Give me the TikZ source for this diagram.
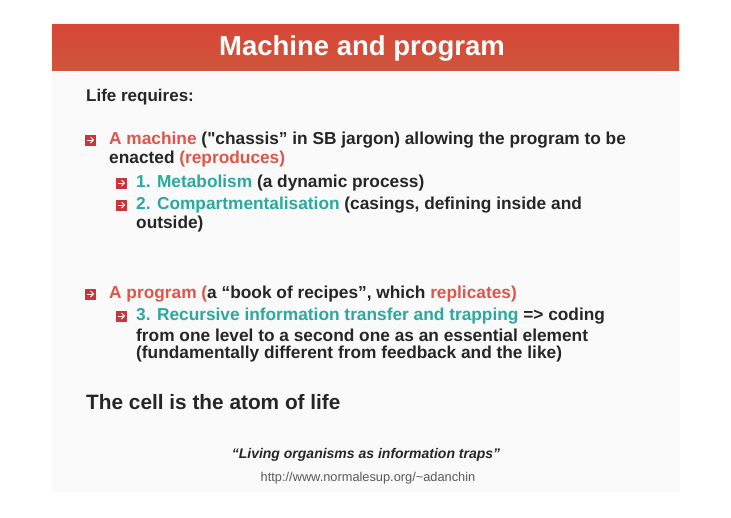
\documentclass[tikz,border=0pt]{standalone}
\usepackage{fontspec}
\setmainfont{Liberation Sans}
\newfontfamily\plainq{Liberation Sans}[Ligatures=TeXOff]
\definecolor{tred}{HTML}{D44A3A}
\definecolor{ired}{HTML}{E0554A}
\definecolor{teal}{HTML}{2BA8A0}
\definecolor{bul}{HTML}{C8353A}
\begin{document}
\begin{tikzpicture}[x=1pt,y=-1pt,
  txt/.style={anchor=west,inner sep=0pt,font=\fontsize{17.3}{20}\selectfont\bfseries,text=black!85},
  bulletbox/.style={fill=bul,minimum size=11pt,inner sep=0pt}]
\useasboundingbox (0,0) rectangle (731,517);
\fill[white] (0,0) rectangle (731,517);
\fill[black!2] (52,22) rectangle (680,492);
\shade[top color=tred!95!red,bottom color=tred!80!brown] (52,24) rectangle (679,70);
\node[font=\fontsize{27.5}{32}\selectfont\bfseries,text=white] (title) at (362,48) {Machine and program};
\node[txt,font=\fontsize{17}{20}\selectfont\bfseries] (life) at (86,97) {Life requires:};
\newcommand{\bul}[2]{\node[bulletbox] (#1) at #2 {};
  \draw[white,line width=1pt] ([xshift=-3.5pt]#1.center) -- ([xshift=3pt]#1.center);
  \draw[white,line width=1pt] ([xshift=0.5pt,yshift=-3pt]#1.center) -- ([xshift=3.5pt]#1.center) -- ([xshift=0.5pt,yshift=3pt]#1.center);}
\bul{b1}{(90,140)}
\node[txt] (l1) at (109,140) {\textcolor{ired}{A machine} ({\plainq\bfseries "}chassis” in SB jargon) allowing the program to be};
\node[txt] (l2) at (109,159) {enacted \textcolor{ired}{(reproduces)}};
\bul{b2}{(121,183)}
\node[txt] (l3) at (136,183) {\textcolor{teal}{1. Metabolism} (a dynamic process)};
\bul{b3}{(121,205)}
\node[txt] (l4) at (136,205) {\textcolor{teal}{2. Compartmentalisation} (casings, defining inside and};
\node[txt] (l5) at (136,224) {outside)};
\bul{b4}{(90,294)}
\node[txt] (l6) at (109,294) {\textcolor{ired}{A program (}a “book of recipes”, which \textcolor{ired}{replicates)}};
\bul{b5}{(121,316)}
\node[txt] (l7) at (136,316) {\textcolor{teal}{3. Recursive information transfer and trapping} => coding};
\node[txt] (l8) at (136,335) {from one level to a second one as an essential element};
\node[txt] (l9) at (136,354) {(fundamentally different from feedback and the like)};
\node[txt,font=\fontsize{20.8}{24}\selectfont\bfseries] (cell) at (86,402) {The cell is the atom of life};
\node[font=\fontsize{14}{17}\selectfont\bfseries\itshape,text=black!85] (q) at (366,455) {“Living organisms as information traps”};
\node[font=\fontsize{12.8}{15}\selectfont,text=black!65] (url) at (368,478) {http://www.normalesup.org/\textasciitilde adanchin};
\end{tikzpicture}
\end{document}
